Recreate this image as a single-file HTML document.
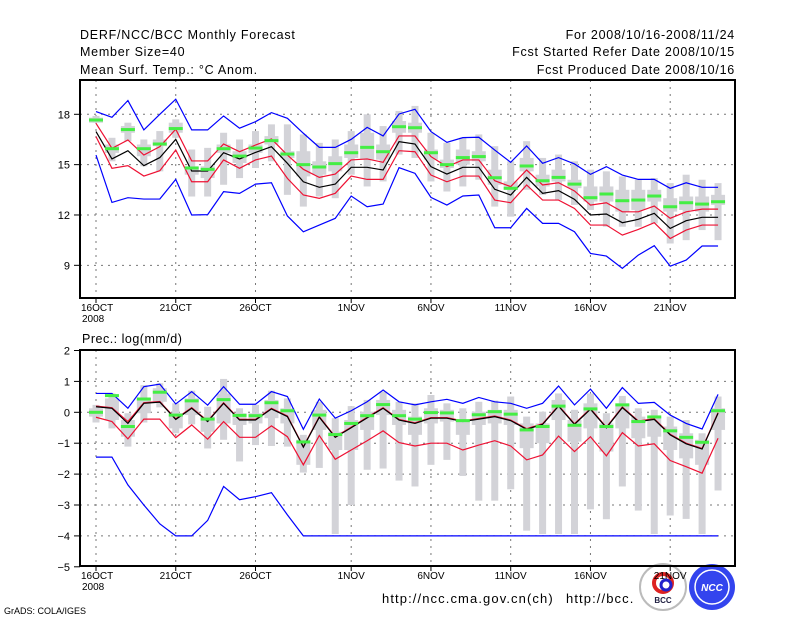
<!DOCTYPE html>
<html><head><meta charset="utf-8"><style>
body{margin:0;background:#fff;}
svg{display:block;font-family:"Liberation Sans",sans-serif;}
</style></head><body>
<svg id="c" width="800" height="618" viewBox="0 0 800 618">
<g font-size="12.5" fill="#000" letter-spacing="0.75">
<text x="80" y="39">DERF/NCC/BCC Monthly Forecast</text>
<text x="80" y="56">Member Size=40</text>
<text x="80" y="74">Mean Surf. Temp.: °C Anom.</text>
<text x="735" y="39" text-anchor="end">For 2008/10/16-2008/11/24</text>
<text x="735" y="56" text-anchor="end">Fcst Started Refer Date 2008/10/15</text>
<text x="735" y="74" text-anchor="end">Fcst Produced Date 2008/10/16</text>
</g>
<text x="82" y="343" font-size="12.5" letter-spacing="0.5">Prec.: log(mm/d)</text>
<text x="4" y="614" font-size="9">GrADS: COLA/IGES</text>
<text x="382" y="603" font-size="13" letter-spacing="1.1">http://ncc.cma.gov.cn(ch)</text>
<text x="566" y="603" font-size="13" letter-spacing="1.1">http://bcc.</text>
<g>
<circle cx="663" cy="587" r="23" fill="#fff" stroke="#bbb" stroke-width="2"/>
<circle cx="663" cy="583" r="9" fill="none" stroke="#d22" stroke-width="4"/>
<circle cx="666" cy="585" r="5" fill="none" stroke="#22c" stroke-width="3"/>
<text x="663" y="603" font-size="8" text-anchor="middle" fill="#224" font-weight="bold">BCC</text>
</g>
<g>
<circle cx="712" cy="587" r="23" fill="#3344ee"/>
<circle cx="712" cy="587" r="17" fill="none" stroke="#fff" stroke-width="1.5"/>
<text x="712" y="591" font-size="10" text-anchor="middle" fill="#fff" font-weight="bold" font-style="italic">NCC</text>
</g>
<g id="plot"></g>
</svg>
<script>
// ---- Temperature panel data (°C) ----
const days = ["16OCT","21OCT","26OCT","1NOV","6NOV","11NOV","16NOV","21NOV"];
const dayIdx = [0,5,10,16,21,26,31,36];
const tTicks = [9,12,15,18];
const tMax = [18.16,17.82,18.82,17.07,18.0,18.9,17.07,17.07,17.9,17.17,17.56,18.1,17.76,16.87,16.03,16.03,16.51,17.22,16.71,18.02,18.3,16.97,16.33,16.61,16.63,15.87,15.14,16.11,15.08,15.42,15.04,14.42,14.88,14.38,14.12,14.12,13.59,13.92,13.65,13.65];
const tMin = [15.57,12.75,13.03,12.95,12.95,14.12,12.0,12.02,13.39,13.29,13.84,13.92,11.94,11.0,11.4,11.8,13.13,12.49,12.65,14.82,14.48,13.05,12.59,13.13,13.19,11.24,11.24,12.39,11.5,11.5,11.0,9.71,9.55,8.82,9.61,10.17,8.95,9.31,10.15,10.15];
const tMean = [16.97,15.34,15.83,14.94,15.42,16.51,14.62,14.62,15.71,15.34,15.73,16.07,15.08,13.98,13.65,13.84,14.84,14.84,14.68,16.37,16.23,14.88,14.44,14.84,14.84,13.53,13.19,14.24,13.29,13.45,12.93,12.0,12.06,11.54,11.74,12.1,11.2,11.66,11.86,11.86];
const tUp = [17.46,15.97,16.47,15.57,16.07,17.11,15.22,15.22,16.23,15.77,16.17,16.53,15.57,14.72,14.24,14.44,15.28,15.34,15.14,16.71,16.71,15.48,14.88,15.28,15.28,14.04,13.69,14.68,13.79,13.92,13.43,12.59,12.73,12.19,12.19,12.53,11.8,12.19,12.35,12.35];
const tLo = [16.67,14.78,14.94,14.32,14.64,15.87,13.98,13.98,15.28,14.78,15.28,15.51,14.18,13.19,12.99,13.29,14.32,14.12,14.12,15.83,15.77,14.38,13.98,14.32,14.32,12.89,12.73,13.79,12.89,12.89,12.39,11.4,11.4,10.8,11.14,11.54,10.6,11.1,11.4,11.4];
const tObs = [17.66,15.95,17.09,15.95,16.23,17.15,14.8,14.72,15.95,15.51,15.99,16.43,15.63,15.0,14.86,15.06,15.71,16.03,15.77,17.26,17.2,15.71,15.0,15.42,15.48,14.22,13.59,14.92,14.04,14.24,13.84,13.03,13.25,12.85,12.89,13.13,12.49,12.73,12.65,12.79];
const tBoxHi = [17.9,16.6,17.5,16.5,17.0,17.7,15.9,16.0,16.9,16.5,17.0,17.4,17.4,16.8,16.3,16.5,17.0,18.0,17.3,18.2,18.5,16.9,16.3,16.6,16.8,16.1,15.2,16.4,15.4,15.6,15.2,14.7,14.6,14.3,14.1,14.2,13.9,14.4,14.1,13.9];
const tBoxLo = [17.5,15.2,16.4,14.9,14.6,16.6,13.1,13.1,13.8,14.2,14.8,15.2,13.2,12.5,13.1,13.0,14.4,13.7,14.0,15.6,15.4,14.0,13.4,13.7,14.1,12.5,11.9,13.5,13.2,12.9,12.6,12.3,11.3,11.3,11.3,11.5,10.3,10.5,11.1,10.5];
const tIqHi = [17.8,16.2,17.3,16.2,16.5,17.5,14.9,14.9,16.2,15.8,16.2,16.7,15.8,15.8,15.2,15.5,16.2,16.9,16.2,17.6,17.5,15.9,15.3,15.9,15.8,14.7,14.0,15.4,14.4,14.7,14.1,13.7,13.7,13.5,13.5,13.5,13.0,13.1,13.1,13.2];
const tIqLo = [17.5,15.7,16.9,15.5,16.1,16.9,14.4,14.2,15.7,15.1,15.7,16.2,15.4,14.3,14.4,14.6,15.4,15.3,15.3,16.9,16.9,15.3,14.8,15.0,15.2,13.8,13.5,14.6,13.7,14.0,13.6,12.8,12.8,12.2,12.3,12.8,12.2,12.3,12.2,12.6];
// ---- Precipitation panel data (log mm/d) ----
const pTicks = [2,1,0,-1,-2,-3,-4,-5];
const pMax = [0.61,0.61,0.13,0.83,0.91,0.27,0.67,0.23,0.83,0.26,0.26,0.67,0.51,-0.55,0.43,-0.19,0.05,0.34,0.72,0.34,0.24,0.34,0.42,0.29,0.48,0.34,0.29,0.13,0.29,0.85,0.24,0.75,0.13,0.8,0.29,0.32,-0.09,-0.36,-0.54,0.58];
const pMin = [-1.45,-1.45,-2.35,-3.0,-3.61,-4,-4,-3.5,-2.4,-2.83,-2.73,-2.6,-3.32,-4,-4,-4,-4,-4,-4,-4,-4,-4,-4,-4,-4,-4,-4,-4,-4,-4,-4,-4,-4,-4,-4,-4,-4,-4,-4,-4];
const pMean = [0.18,0.13,-0.36,0.29,0.33,-0.23,0.13,-0.3,0.29,-0.25,-0.25,0.11,-0.14,-1.13,-0.16,-0.81,-0.5,-0.18,0.13,-0.25,-0.36,-0.19,-0.19,-0.3,-0.22,-0.14,-0.27,-0.55,-0.39,0.2,-0.39,0.1,-0.5,0.15,-0.3,-0.23,-0.73,-1.02,-1.19,-0.03];
const pUp = [0.2,0.15,-0.3,0.31,0.35,-0.21,0.15,-0.28,0.31,-0.23,-0.23,0.13,-0.12,-1.11,-0.14,-0.79,-0.48,-0.16,0.15,-0.23,-0.34,-0.17,-0.17,-0.28,-0.2,-0.12,-0.25,-0.53,-0.37,0.22,-0.37,0.12,-0.48,0.17,-0.28,-0.21,-0.71,-1.0,-1.17,-0.01];
const pLo = [-0.16,-0.3,-0.86,-0.22,-0.22,-0.82,-0.41,-0.87,-0.3,-0.81,-0.81,-0.44,-0.79,-1.7,-0.75,-1.52,-1.22,-0.92,-0.6,-0.98,-1.09,-1.0,-1.0,-1.22,-1.06,-0.92,-1.09,-1.54,-1.38,-0.77,-1.27,-0.79,-1.41,-0.66,-1.09,-1.02,-1.56,-1.76,-1.97,-0.84];
const pObs = [0,0.54,-0.46,0.43,0.65,-0.09,0.37,-0.22,0.41,-0.1,-0.11,0.31,0.05,-0.96,-0.09,-0.72,-0.36,-0.11,0.25,-0.11,-0.22,-0.01,-0.02,-0.27,-0.08,0.02,-0.06,-0.57,-0.46,0.2,-0.42,0.11,-0.46,0.24,-0.3,-0.15,-0.6,-0.81,-0.97,0.05];
const pBoxHi = [0.24,0.61,-0.03,0.88,0.94,0.29,0.70,0.18,1.08,0.13,0.24,0.70,0.45,-0.73,0.34,-0.19,0.2,0.40,0.67,0.34,0.29,0.56,0.29,0.13,0.34,0.38,0.51,-0.14,0.02,0.61,0.08,0.61,-0.03,0.53,0.13,0.08,-0.14,-0.25,-0.68,0.51];
const pBoxLo = [-0.33,-0.52,-1.11,-0.33,0.16,-0.68,-0.39,-1.17,-0.89,-1.59,-1.06,-1.09,-1.11,-1.95,-1.8,-3.94,-3.0,-1.86,-1.82,-2.21,-2.4,-1.7,-1.54,-2.06,-2.86,-2.86,-2.49,-3.83,-3.94,-3.94,-3.94,-3.14,-3.46,-2.4,-3.18,-3.94,-3.34,-3.45,-3.94,-2.53];
const pIqHi = [0.13,0.45,-0.25,0.45,0.78,-0.03,0.45,-0.14,0.61,-0.03,-0.03,0.40,0.13,-0.89,0.08,-0.63,-0.25,0.02,0.40,0.08,-0.14,0.13,0.08,-0.25,0.02,0.08,0.08,-0.36,-0.36,0.40,-0.25,0.29,-0.36,0.29,-0.14,-0.14,-0.46,-0.68,-0.89,0.13];
const pIqLo = [-0.14,-0.25,-0.79,-0.03,0.34,-0.52,-0.09,-0.63,-0.36,-0.41,-0.36,-0.19,-0.36,-1.7,-0.57,-1.22,-1.22,-0.57,-0.09,-0.41,-0.73,-0.36,-0.30,-0.73,-0.41,-0.36,-0.41,-1.16,-1.0,-0.25,-0.95,-0.52,-1.27,-0.52,-0.84,-0.79,-1.22,-1.49,-1.7,-0.57];

const NS='http://www.w3.org/2000/svg';
const root=document.getElementById('plot');
function mk(tag,attrs,parent){const e=document.createElementNS(NS,tag);for(const k in attrs)e.setAttribute(k,attrs[k]);(parent||root).appendChild(e);return e;}
const xAt=i=>96+15.95*i;
const yT=v=>114.3+(18-v)*16.78;
const yP=v=>412.3-v*30.9;

function panel(name,top,bot,yFn,ticks,gridTicks,boxHi,boxLo,iqHi,iqLo,obs,upArr,loArr,mean,mx,mn){
  const g=mk('g',{});
  
  
  dayIdx.forEach(d=>{const l=mk('line',{x1:xAt(d),x2:xAt(d),y1:top,y2:bot,stroke:'#777','stroke-dasharray':'2,5','stroke-width':1},g);
    
    });
  gridTicks.forEach(t=>{const l=mk('line',{x1:80,x2:735,y1:yFn(t),y2:yFn(t),stroke:'#777','stroke-dasharray':'2,5','stroke-width':1},g);
    
    });
  for(let i=0;i<boxHi.length;i++){
    const x=xAt(i);
    const r1=mk('rect',{x:x-3.5,y:yFn(boxHi[i]),width:7,height:Math.max(1,yFn(boxLo[i])-yFn(boxHi[i])),fill:'#d3d3d8'},g);
    
    
    const r2=mk('rect',{x:x-7,y:yFn(iqHi[i]),width:14,height:Math.max(1,yFn(iqLo[i])-yFn(iqHi[i])),fill:'#d3d3d8'},g);
    
    
  }
  const line=(arr,col,nm)=>{const p=mk('polyline',{points:arr.map((v,i)=>xAt(i)+','+yFn(v)).join(' '),fill:'none',stroke:col,'stroke-width':1.2},g);
    
    };
  line(mn,'#0000ff','ensemble-min-line');
  line(mx,'#0000ff','ensemble-max-line');
  line(loArr,'#ee1133','lower-bound-line');
  line(upArr,'#ee1133','upper-bound-line');
  line(mean,'#000','ensemble-mean-line');
  obs.forEach((v,i)=>{const r=mk('rect',{x:xAt(i)-7,y:yFn(v)-1.5,width:14,height:3,fill:'#44ee44'},g);
    
    });
  const f=mk('rect',{x:80,y:top,width:655,height:bot-top,fill:'none',stroke:'#000','stroke-width':2},g);
  
  
  ticks.forEach(t=>{const y=yFn(t);
    mk('line',{x1:74,x2:80,y1:y,y2:y,stroke:'#000'},g);
    const tx=mk('text',{x:70,y:y+4,'text-anchor':'end','font-size':11},g);
    tx.textContent=String(t).replace('-','−');
    
    });
  days.forEach((d,k)=>{const x=xAt(dayIdx[k]);
    mk('line',{x1:x,x2:x,y1:bot,y2:bot+5,stroke:'#000'},g);
    const tx=mk('text',{x:k==0?x-15:x,y:bot+13,'text-anchor':k==0?'start':'middle','font-size':10},g);
    tx.textContent=d;
    
    });
  const yr=mk('text',{x:82,y:bot+24,'font-size':10},g);
  yr.textContent='2008';
  
  
}
panel('temperature-panel',80,298,yT,tTicks,tTicks,tBoxHi,tBoxLo,tIqHi,tIqLo,tObs,tUp,tLo,tMean,tMax,tMin);
panel('precipitation-panel',350,566,yP,pTicks,[1,0,-1,-2,-3,-4],pBoxHi,pBoxLo,pIqHi,pIqLo,pObs,pUp,pLo,pMean,pMax,pMin);
</script>
</body></html>
